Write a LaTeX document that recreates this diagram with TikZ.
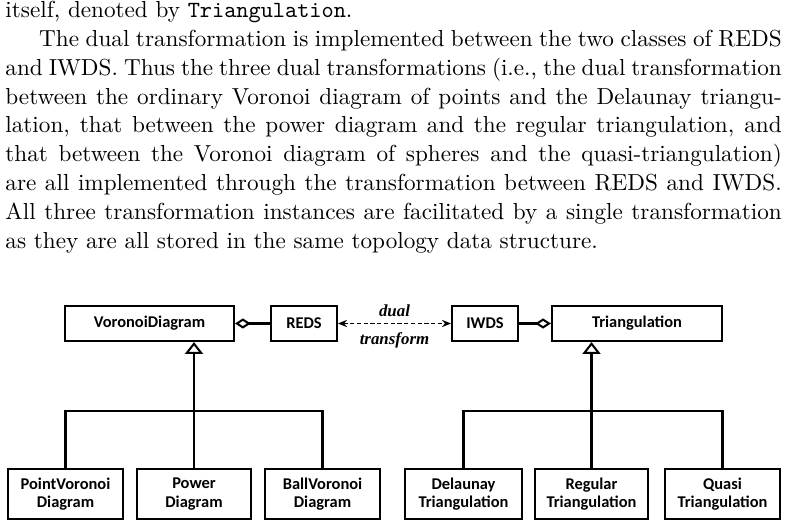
\documentclass[tikz,border=0pt]{standalone}
\usepackage{fontspec}
\newfontfamily\clsfont{Carlito}
\newfontfamily\dualfont{Liberation Serif}
\usetikzlibrary{positioning,arrows.meta,calc}

\begin{document}
\begin{tikzpicture}[
  x=0.4444pt, y=-0.4444pt,
  para/.style  ={inner sep=0pt, text width=345pt, align=justify, font=\fontsize{10.3}{12.8}\selectfont},
  cls/.style   ={rectangle, draw=black, line width=0.9pt, inner sep=0pt, align=center,
                 font=\clsfont\bfseries\fontsize{7.3}{8.2}\selectfont, minimum height=15.6pt},
  sub/.style   ={cls, minimum height=22.2pt},
  lbl/.style   ={font=\dualfont\bfseries\itshape\fontsize{7.5}{9}\selectfont, inner sep=0pt},
  conn/.style  ={black, line width=0.9pt},
  agg/.style   ={conn, -{Diamond[open, length=7pt, width=4.5pt]}},
  gen/.style   ={conn, -{Triangle[open, length=5.3pt, width=8pt]}},
  dualarr/.style={conn, line width=0.75pt, dash pattern=on 1.8pt off 1.2pt,
                 {Stealth[length=4pt, width=3.2pt]}-{Stealth[length=4pt, width=3.2pt]}}
]
\useasboundingbox (0,0) rectangle (788,527);

% ---- Text above the diagram -------------------------------------------------
\node[para, anchor=north west] (txt) at (5,1) {\setlength{\parindent}{15pt}%
\noindent itself, denoted by \texttt{Triangulation}.\par
The dual transformation is implemented between the two classes of REDS\linebreak
and IWDS. Thus the three dual transformations (i.e., the dual transformation\linebreak
between the ordinary Voronoi diagram of points and the Delaunay triangu-\linebreak
lation, that between the power diagram and the regular triangulation, and\linebreak
that between the Voronoi diagram of spheres and the quasi-triangulation)\linebreak
are all implemented through the transformation between REDS and IWDS.\linebreak
All three transformation instances are facilitated by a single transformation\linebreak
as they are all stored in the same topology data structure.};

% ---- Top row: the two classes and their data structures ---------------------
\node[cls, minimum width=75.1pt] (vd)   at (149.5,323.5) {VoronoiDiagram};
\node[cls, minimum width=29.3pt] (reds) at (304,323.5)   {REDS};
\node[cls, minimum width=29.3pt] (iwds) at (485,323.5)   {IWDS};
\node[cls, minimum width=75.6pt] (tri)  at (637,323.5)   {Triangulation};

% ---- Bottom row: the concrete diagrams -----------------------------------------
\node[sub, minimum width=51.1pt] (pv) at (65.5,494)  {PointVoronoi\\Diagram};
\node[sub, minimum width=50.7pt] (pd) at (194,494)   {Power\\Diagram};
\node[sub, minimum width=51.1pt] (bv) at (322.5,494) {BallVoronoi\\Diagram};

\node[sub, minimum width=52pt]   (dt) at (463.5,494) {Delaunay\\Triangulation};
\node[sub, minimum width=50.2pt] (rt) at (591.5,494) {Regular\\Triangulation};
\node[sub, minimum width=51.1pt] (qt) at (722.5,494) {Quasi\\Triangulation};

% ---- Aggregation and dual transform -------------------------------------------
\draw[agg] (reds) -- (vd);
\draw[agg] (iwds) -- (tri);
\draw[dualarr] (reds) -- (iwds)
  node[lbl, midway, above=2.6pt] (dual) {dual}
  node[lbl, midway, below=3.6pt] (trf) {transform};

% ---- Inheritance trees ----------------------------------------------------------
\coordinate (vjoin) at ($(pd.north)+(0,-57)$);
\coordinate (tjoin) at ($(rt.north)+(0,-57)$);

\draw[conn] (pv) |- (vjoin) -| (bv);
\draw[gen] (pd) -- (pd |- vd.south);

\draw[conn] (dt) |- (tjoin) -| (qt);
\draw[gen] (rt) -- (rt |- tri.south);

\end{tikzpicture}
\end{document}
